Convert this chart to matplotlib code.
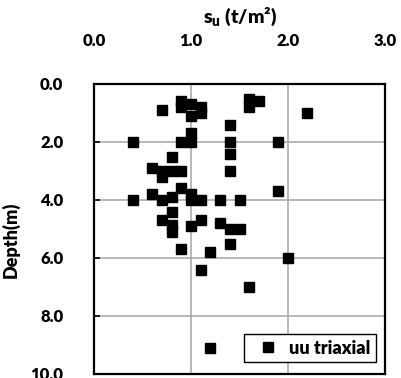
import matplotlib
matplotlib.use("Agg")
import matplotlib.pyplot as plt

# UU triaxial test results: undrained shear strength vs depth
su = [0.7, 0.9, 0.9, 1.0, 1.0, 1.1, 1.1, 1.6, 1.6, 1.7, 2.2, 1.4,
      0.4, 0.9, 1.0, 1.0, 1.4, 1.9, 1.4, 1.4, 0.8, 0.6, 0.7, 0.7,
      0.8, 0.9, 0.9, 0.4, 0.6, 0.7, 0.8, 1.0, 1.0, 1.1, 1.3, 1.5,
      1.9, 0.8, 0.7, 0.8, 0.8, 1.0, 1.1, 1.3, 1.4, 1.5, 1.4, 0.9,
      1.2, 1.1, 2.0, 1.6, 1.2]
depth = [0.9, 0.6, 0.8, 0.7, 1.1, 0.8, 1.0, 0.5, 0.8, 0.6, 1.0, 1.4,
         2.0, 2.0, 2.0, 1.7, 2.0, 2.0, 2.4, 3.0, 2.5, 2.9, 3.0, 3.2,
         3.0, 3.0, 3.6, 4.0, 3.8, 4.0, 3.9, 3.8, 4.0, 4.0, 4.0, 4.0,
         3.7, 4.4, 4.7, 4.85, 5.1, 4.9, 4.7, 4.8, 5.0, 5.0, 5.5, 5.7,
         5.8, 6.4, 6.0, 7.0, 9.1]

x_ticks = [0.0, 1.0, 2.0, 3.0]
y_ticks = [0.0, 2.0, 4.0, 6.0, 8.0, 10.0]

plt.rcParams["font.family"] = ["Lato", "DejaVu Sans"]
plt.rcParams["font.weight"] = "heavy"
plt.rcParams["mathtext.fontset"] = "custom"
plt.rcParams["mathtext.bf"] = "Lato:heavy"

fig = plt.figure(figsize=(4.01, 3.78), dpi=100)
ax = fig.add_axes([94 / 401, 1 - 374 / 378, 291 / 401, 290 / 378])

ax.plot(su, depth, "s", color="black", markersize=7, label="uu triaxial",
        zorder=3, clip_on=False)

ax.set_xlim(0, 3)
ax.set_ylim(10, 0)
ax.set_xticks(x_ticks)
ax.set_yticks(y_ticks)
ax.set_xticklabels([f"{v:.1f}" for v in x_ticks], fontweight="heavy")
ax.set_yticklabels([f"{v:.1f}" for v in y_ticks], fontweight="heavy")
ax.xaxis.tick_top()
ax.tick_params(axis="x", length=0, pad=25, labelsize=12)
ax.tick_params(axis="y", direction="in", length=4, width=1.2, pad=22, labelsize=12)

ax.grid(color="#a6a6a6", linewidth=1.1)
ax.set_axisbelow(True)
for s in ax.spines.values():
    s.set_linewidth(1.6)
    s.set_color("black")

ax.set_ylabel("Depth(m)", fontsize=13, fontweight="heavy")
ax.yaxis.set_label_coords(-0.254, 0.462)

fig.text(0.598, 1 - 17 / 378, r"s$_{\mathbf{u}}$ (t/m²)", ha="center", va="center",
         fontsize=14, fontweight="heavy")

leg = ax.legend(loc="lower right", bbox_to_anchor=(0.969, 0.041), borderaxespad=0,
                fancybox=False, edgecolor="black", framealpha=1,
                prop={"size": 13, "weight": "heavy"},
                handlelength=2.0, handletextpad=0.2, borderpad=0.3)
leg.get_frame().set_linewidth(1.0)

fig.savefig("out.png", dpi=100)
